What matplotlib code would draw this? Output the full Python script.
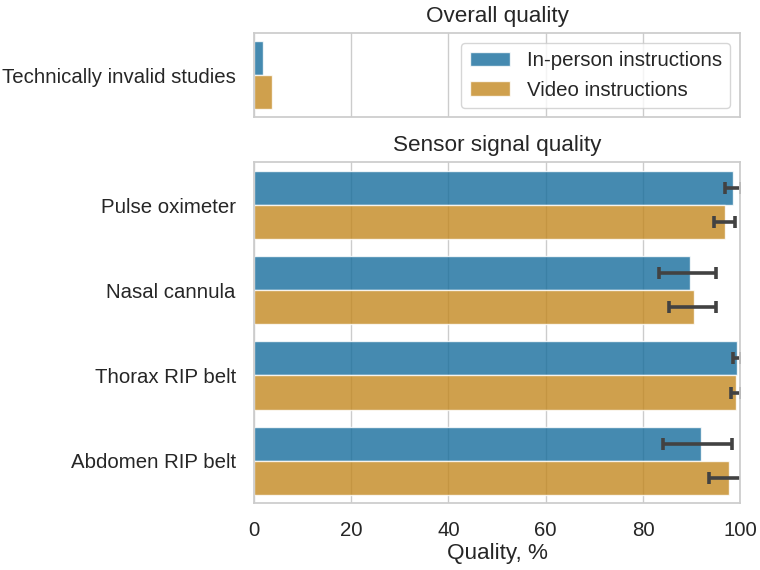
import matplotlib
matplotlib.use("Agg")
import matplotlib.pyplot as plt
import numpy as np
import seaborn as sns
from matplotlib.patches import Patch

# ---- data ----
overall_categories = ["Technically invalid studies"]
overall_inperson = [1.9]
overall_video = [3.8]

sensor_categories = ["Pulse oximeter", "Nasal cannula", "Thorax RIP belt", "Abdomen RIP belt"]
inperson = [98.6, 89.7, 99.3, 91.9]
video = [96.8, 90.5, 99.2, 97.7]
inperson_lo = [96.9, 83.4, 98.6, 84.2]
inperson_hi = [100.2, 95.1, 100.2, 98.3]
video_lo = [94.7, 85.4, 98.1, 93.6]
video_hi = [99.0, 95.1, 100.2, 100.6]

series_labels = ["In-person instructions", "Video instructions"]
x_ticks = [0, 20, 40, 60, 80, 100]

sns.set_theme(style="whitegrid", context="notebook", font_scale=1.25)
plt.rcParams['font.family'] = ['Liberation Sans', 'DejaVu Sans']

TICK_FS = 14.7
LABEL_FS = 16.2

pal = sns.color_palette("colorblind")
c1 = sns.desaturate(pal[0], 0.75)
c2 = sns.desaturate(pal[1], 0.75)
alpha = 0.8

fig = plt.figure(figsize=(7.6, 5.7), dpi=100)
ax1 = fig.add_axes([0.334, 0.7947, 0.640, 0.1473])
ax2 = fig.add_axes([0.334, 0.117, 0.640, 0.598], sharex=ax1)

h = 0.4

# top
y = np.arange(len(overall_categories))
ax1.barh(y - h/2, overall_inperson, height=h, color=c1, alpha=alpha, edgecolor="white", linewidth=1)
ax1.barh(y + h/2, overall_video, height=h, color=c2, alpha=alpha, edgecolor="white", linewidth=1)
ax1.set_yticks(y)
ax1.set_yticklabels(overall_categories)
ax1.set_ylim(len(overall_categories) - 0.5, -0.5)
ax1.set_title("Overall quality", fontsize=LABEL_FS, pad=8)
ax1.yaxis.grid(False)
ax1.tick_params(axis="x", labelbottom=False)

# bottom
y = np.arange(len(sensor_categories))
ip = np.array(inperson); vd = np.array(video)
err1 = [ip - np.array(inperson_lo), np.array(inperson_hi) - ip]
err2 = [vd - np.array(video_lo), np.array(video_hi) - vd]
ekw = dict(ecolor=(0.26, 0.26, 0.26), elinewidth=2.6, capsize=4, capthick=2.6)
ax2.barh(y - h/2, ip, height=h, color=c1, alpha=alpha, edgecolor="white", linewidth=1,
         xerr=err1, error_kw=ekw)
ax2.barh(y + h/2, vd, height=h, color=c2, alpha=alpha, edgecolor="white", linewidth=1,
         xerr=err2, error_kw=ekw)
ax2.set_yticks(y)
ax2.set_yticklabels(sensor_categories)
ax2.set_ylim(len(sensor_categories) - 0.5, -0.5)
ax2.set_title("Sensor signal quality", fontsize=LABEL_FS, pad=8)
ax2.yaxis.grid(False)
ax2.set_xlim(0, 100)
ax2.set_xticks(x_ticks)
ax2.set_xlabel("Quality, %", fontsize=LABEL_FS, labelpad=2)

for ax in (ax1, ax2):
    ax.tick_params(axis="both", labelsize=TICK_FS, pad=7)

handles = [Patch(facecolor=c1, alpha=alpha, edgecolor="white"),
           Patch(facecolor=c2, alpha=alpha, edgecolor="white")]
ax1.legend(handles, series_labels, loc="upper right", fontsize=TICK_FS)

fig.savefig("out.png", dpi=100)
